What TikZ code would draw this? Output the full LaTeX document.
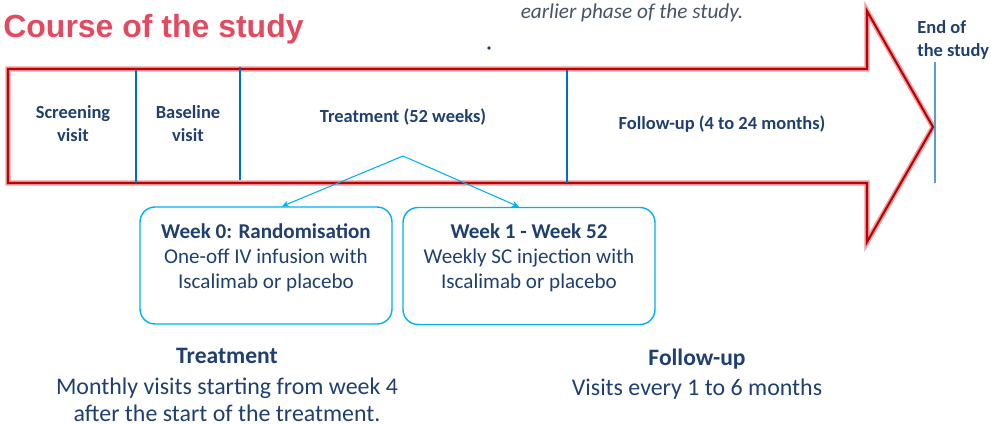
\documentclass[tikz,border=0pt]{standalone}
\usepackage{fontspec}
\setmainfont{Carlito}
\newfontfamily\headfont{Liberation Sans}
\usepackage{tikz}
\usetikzlibrary{positioning}
\usetikzlibrary{arrows.meta}

\definecolor{titlered}{RGB}{226,74,96}
\definecolor{darkred}{RGB}{192,0,0}
\definecolor{halopink}{RGB}{232,160,165}
\definecolor{textblue}{RGB}{31,63,110}
\definecolor{slate}{RGB}{68,84,106}
\definecolor{cyanline}{RGB}{0,176,240}
\definecolor{midblue}{RGB}{0,112,192}
\definecolor{lightblue}{RGB}{91,155,213}

\begin{document}
\begin{tikzpicture}[x=0.02cm,y=-0.02cm,
  phase/.style={font=\fontsize{10.5}{13}\selectfont\bfseries, text=textblue, align=center, inner sep=0},
  card/.style={draw=cyanline, line width=0.8pt, rounded corners=8.5pt, minimum width=5.04cm, minimum height=2.34cm},
  cardtext/.style={font=\fontsize{12}{14.2}\selectfont, text=textblue, align=center, anchor=north, inner sep=0},
  note/.style={font=\fontsize{13.6}{15.3}\selectfont, text=textblue, align=center, anchor=base, inner sep=0},
  conn/.style={draw=cyanline, line width=0.6pt, -{Stealth[length=4pt,width=3.5pt]}}]
  \useasboundingbox (0,0) rectangle (991,424);

  % big arrow
  \draw[halopink, line width=3pt]
    (8,69) -- (867,69) -- (867,11) -- (933,127) -- (867,242) -- (867,183) -- (8,183) -- cycle;
  \draw[darkred, line width=1.2pt]
    (8,69) -- (867,69) -- (867,11) -- (933,127) -- (867,242) -- (867,183) -- (8,183) -- cycle;
  \draw[midblue, line width=1.2pt] (136,69) -- (136,183);
  \draw[midblue, line width=0.7pt] (240,67) -- (240,180);
  \draw[midblue, line width=0.7pt] (567,70) -- (567,183);
  \draw[lightblue, line width=1pt] (935,62) -- (935,183);

  \node[font={\fontsize{18.2}{21}\headfont\bfseries}, text=titlered, anchor=base west, inner sep=0] (title) at (3,37) {Course of the study};
  \node[font=\fontsize{12.1}{14}\selectfont\itshape, text=slate, anchor=base, inner sep=0] (earlier) at (632,18) {earlier phase of the study.};
  \fill[textblue] (489,48) circle (1.1pt);

  \node[phase] (screen) at (73,124) {Screening\\visit};
  \node[phase] (baseline) at (188,124) {Baseline\\visit};
  \node[phase] (treat) at (403,117) {Treatment (52 weeks)};
  \node[phase] (follow) at (722,124) {Follow-up (4 to 24 months)};
  \node[phase, align=left, anchor=west] (end) at (917,40) {End of\\the study};

  % boxes under the treatment phase
  \node[card] (rand) at (266,265.5) {};
  \node[card] (weekly) at (529,266) {};
  \node[cardtext] (randtext) at (266,223) {\textbf{Week 0: Randomisation}\\One-off IV infusion with\\Iscalimab or placebo};
  \node[cardtext] (weeklytext) at (529,223) {\textbf{Week 1 - Week 52}\\Weekly SC injection with\\Iscalimab or placebo};
  \coordinate (split) at (403,156);
  \draw[conn] (split) -- ([xshift=0.32cm]rand.north);
  \draw[conn] (split) -- ([xshift=-0.2cm]weekly.north);

  \node[note, font=\fontsize{13.4}{15}\selectfont\bfseries] (treathead) at (227,363) {Treatment};
  \node[note] (treatnote) at (227,421) {Monthly visits starting from week 4\\after the start of the treatment.};
  \node[note, font=\fontsize{13.4}{15}\selectfont\bfseries] (followhead) at (697,365) {Follow-up};
  \node[note] (follownote) at (697,395) {Visits every 1 to 6 months};
\end{tikzpicture}
\end{document}
